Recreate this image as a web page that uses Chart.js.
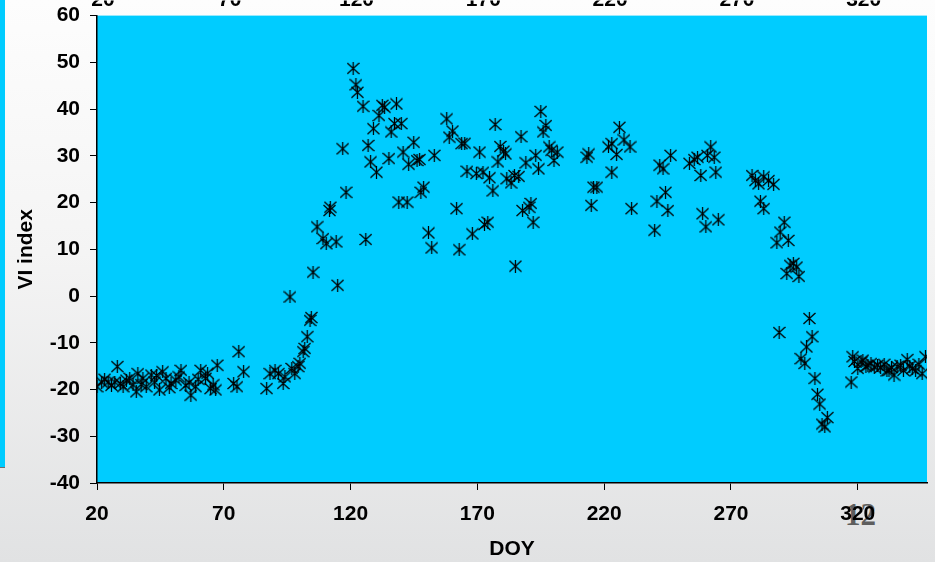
<!DOCTYPE html>
<html>
<head>
<meta charset="utf-8">
<title>VI index vs DOY</title>
<script src="https://cdn.jsdelivr.net/npm/chart.js@4.4.1/dist/chart.umd.min.js"></script>
<style>
  html, body { margin: 0; padding: 0; }
  body {
    width: 935px; height: 562px; overflow: hidden; position: relative;
    background: linear-gradient(#fdfdfd 0%, #f4f4f4 45%, #e1e2e3 100%);
  }
  #side-strip {
    position: absolute; left: 0; top: 0; width: 5px; height: 467px;
    background: #00ccff; border-bottom: 1px solid #6f6f6f;
  }
  #slide-no {
    position: absolute; left: 845px; top: 497px;
    font: bold 31px "Liberation Serif", serif; color: #5e5e5e;
  }
  /* canvas pushed up a bit so the top labels get cut like in the slide */
  #chart-wrap { position: absolute; left: 0; top: -7px; width: 935px; height: 569px; }
</style>
</head>
<body>
<div id="side-strip"></div>
<div id="slide-no">12</div>
<div id="chart-wrap"><canvas id="chart-vi"></canvas></div>

<script>
(function () {
  'use strict';

  /* day of year and VI index */
  var DOY = [
    20.0, 21.8, 23.0, 24.4, 25.7, 27.0, 28.0, 29.2, 30.3, 31.6, 32.9, 34.2, 35.5, 36.1, 37.4, 38.1, 39.4,
    41.4, 42.7, 43.5, 44.6, 45.9, 47.2, 48.5, 49.2, 51.1, 52.3, 53.1, 55.0, 56.3, 57.0, 58.9, 59.9,
    60.9, 62.8, 63.6, 64.8, 65.8, 66.8, 67.4, 73.9, 75.2, 75.9, 77.8,
    86.9, 88.2, 90.2, 91.5, 93.4, 94.1, 96.1, 96.8, 98.0, 99.3, 100.0, 101.3, 101.9, 102.9, 104.0, 104.5,
    105.2, 106.8, 109.1, 110.4, 111.7, 112.0, 114.3, 114.9, 116.9, 118.2,
    121.0, 122.1, 122.7, 124.9, 126.0, 126.9, 127.9, 129.0, 130.2, 131.2, 132.5, 133.4, 135.1, 136.0,
    137.3, 138.1, 139.0, 140.0, 140.7, 142.3, 142.9, 144.9, 146.2, 147.2, 147.7, 148.8, 150.7, 152.0,
    153.0, 157.9, 158.9, 160.2, 161.8, 162.8, 163.8, 165.0, 165.9, 168.0, 169.6, 170.9, 172.2, 172.8,
    174.1, 174.8, 176.1, 177.0, 178.1, 179.0, 180.3, 181.1, 181.6, 183.3, 184.6, 185.0, 186.3, 187.2,
    187.8, 189.1, 190.4, 191.1, 192.0, 193.0, 194.1, 195.0, 195.9, 197.0, 198.3, 199.3, 200.2, 201.5,
    213.2, 213.9, 214.9, 215.8, 217.1, 221.7, 223.0, 223.0, 224.9, 226.0, 227.8, 230.2, 230.8,
    239.9, 240.8, 241.9, 243.2, 244.2, 245.1, 246.2, 253.6, 255.5, 256.8, 258.1, 258.8, 260.1, 260.7,
    262.0, 263.4, 264.0, 265.0,
    278.3, 279.6, 280.9, 281.6, 282.9, 282.9, 284.8, 286.8, 288.1, 289.0, 289.4, 291.0, 292.0, 292.6,
    293.3, 294.6, 295.9, 296.8, 297.6, 299.1, 299.8, 300.9, 302.0, 303.1, 304.1, 305.0, 305.9, 307.0, 308.0,
    317.4, 318.0, 318.7, 320.0, 321.3, 322.0, 323.2, 324.0, 325.2, 326.5, 327.8, 329.0, 330.4, 331.5,
    332.3, 333.3, 334.3, 335.5, 336.9, 338.0, 339.5, 340.5, 341.5, 342.8, 344.1, 345.4, 346.7
  ];
  var VI = [
    -19.4, -18.4, -17.8, -18.4, -19.1, -18.4, -15.1, -18.7, -19.4, -18.0, -17.6, -19.0, -20.5, -16.6, -18.9, -17.6, -19.4,
    -16.9, -18.4, -17.0, -20.1, -16.2, -17.6, -19.6, -18.7, -18.0, -17.3, -15.9, -19.1, -18.5, -21.2, -19.4, -17.8,
    -15.9, -17.6, -16.5, -19.8, -19.0, -20.1, -14.8, -18.7, -19.4, -11.9, -16.2,
    -19.8, -16.6, -15.9, -16.6, -18.7, -17.3, -0.2, -15.5, -16.6, -15.1, -14.4, -11.9, -11.2, -8.7, -5.2, -4.6,
    5.1, 14.8, 12.3, 11.2, 18.3, 19.0, 11.6, 2.3, 31.5, 22.2,
    48.7, 45.2, 43.6, 40.6, 12.1, 32.2, 28.7, 35.8, 26.5, 38.6, 40.8, 40.4, 29.4, 35.1,
    36.9, 41.1, 20.1, 36.9, 30.8, 20.1, 28.2, 32.9, 29.0, 29.2, 22.2, 23.3, 13.5, 10.3,
    30.1, 37.9, 34.0, 35.3, 18.7, 9.9, 32.6, 32.7, 26.7, 13.3, 26.2, 30.8, 26.5, 15.3,
    15.8, 25.3, 22.5, 36.7, 28.7, 32.0, 31.0, 30.4, 25.1, 24.2, 25.8, 6.4, 25.6, 34.1,
    18.3, 28.5, 19.0, 19.8, 15.8, 30.1, 27.2, 39.5, 35.1, 36.5, 31.9, 31.2, 29.0, 30.8,
    29.7, 30.4, 19.4, 23.3, 23.3, 31.9, 32.6, 26.5, 30.3, 36.1, 33.4, 31.9, 18.7,
    14.1, 20.3, 28.0, 27.2, 22.2, 18.3, 30.1, 28.4, 29.2, 29.7, 25.8, 17.6, 14.8, 30.1,
    31.9, 29.7, 26.5, 16.3,
    25.8, 24.7, 24.0, 20.3, 25.5, 18.7, 24.7, 23.9, 11.4, -7.8, 13.7, 15.8, 4.8, 11.9,
    6.6, 7.0, 6.2, 4.2, -13.4, -14.4, -10.9, -4.8, -8.7, -17.6, -21.0, -23.1, -27.4, -28.0, -26.0,
    -18.4, -13.0, -14.0, -15.5, -14.1, -13.7, -15.1, -14.8, -14.4, -15.2, -14.8, -15.3, -14.6, -16.0,
    -15.9, -15.3, -16.9, -15.1, -14.8, -15.9, -13.6, -15.0, -15.5, -16.0, -14.6, -16.6, -13.0
  ];

  var X_TICKS = [20, 70, 120, 170, 220, 270, 320];
  var Y_TICKS = [-40, -30, -20, -10, 0, 10, 20, 30, 40, 50, 60];
  var X_RANGE = [20, 347.3];
  var X_TOP_SHIFT = 2.34; /* labels of the chart above sit a few px to the right */

  var LABEL_FONT = { family: 'Liberation Sans, Arial, sans-serif', size: 21, weight: 'bold' };

  /* Excel style asterisk: an X with a vertical bar */
  function makeAsterisk() {
    var c = document.createElement('canvas');
    c.width = 13; c.height = 13;
    var g = c.getContext('2d');
    g.strokeStyle = '#000';
    g.lineWidth = 1.25;
    g.beginPath();
    g.moveTo(0.5, 1); g.lineTo(12.5, 12);
    g.moveTo(12.5, 1); g.lineTo(0.5, 12);
    g.moveTo(6.5, 0); g.lineTo(6.5, 13);
    g.stroke();
    return c;
  }

  var plotBg = {
    id: 'plotBg',
    beforeDraw: function (chart) {
      var a = chart.chartArea, ctx = chart.ctx;
      ctx.save();
      ctx.fillStyle = '#00ccff';
      ctx.fillRect(a.left, a.top, a.right - a.left, a.bottom - a.top);
      ctx.restore();
    }
  };

  function fixedTicks(list) {
    return function (axis) {
      axis.ticks = list.map(function (v) { return { value: v }; });
    };
  }

  var points = DOY.map(function (d, i) { return { x: d, y: VI[i] }; });

  new Chart(document.getElementById('chart-vi'), {
    type: 'scatter',
    data: {
      datasets: [{
        label: 'VI index',
        data: points,
        pointStyle: makeAsterisk(),
        pointRadius: 7,
        xAxisID: 'x',
        yAxisID: 'y'
      }]
    },
    options: {
      responsive: true,
      maintainAspectRatio: false,
      animation: false,
      layout: { padding: 0 },
      plugins: { legend: { display: false }, tooltip: { enabled: false } },
      scales: {
        x: {
          type: 'linear',
          position: 'bottom',
          min: X_RANGE[0],
          max: X_RANGE[1],
          afterBuildTicks: fixedTicks(X_TICKS),
          afterFit: function (axis) { axis.height = 79; },
          grid: { drawOnChartArea: false, drawTicks: true, tickLength: 7, color: '#000', lineWidth: 1 },
          border: { display: true, color: '#000', width: 1.5 },
          ticks: { font: LABEL_FONT, color: '#000', padding: 12, maxRotation: 0, autoSkip: false },
          title: { display: true, text: 'DOY', font: LABEL_FONT, color: '#000', padding: { top: 6, bottom: 0 } }
        },
        x2: {
          type: 'linear',
          position: 'top',
          min: X_RANGE[0] - X_TOP_SHIFT,
          max: X_RANGE[1] - X_TOP_SHIFT,
          afterBuildTicks: fixedTicks(X_TICKS),
          afterFit: function (axis) { axis.height = 15; },
          grid: { display: false, drawTicks: false },
          border: { display: false },
          ticks: { font: LABEL_FONT, color: '#000', padding: 3, maxRotation: 0, autoSkip: false }
        },
        y: {
          type: 'linear',
          min: Y_TICKS[0],
          max: Y_TICKS[Y_TICKS.length - 1],
          afterBuildTicks: fixedTicks(Y_TICKS),
          afterFit: function (axis) { axis.width = 97; },
          grid: { drawOnChartArea: false, drawTicks: true, tickLength: 7, color: '#000', lineWidth: 1 },
          border: { display: true, color: '#000', width: 1.5 },
          ticks: { font: LABEL_FONT, color: '#000', padding: 10 },
          title: { display: true, text: 'VI index', font: LABEL_FONT, color: '#000', padding: { top: 14, bottom: 0 } }
        }
      }
    },
    plugins: [plotBg]
  });
})();
</script>
</body>
</html>
